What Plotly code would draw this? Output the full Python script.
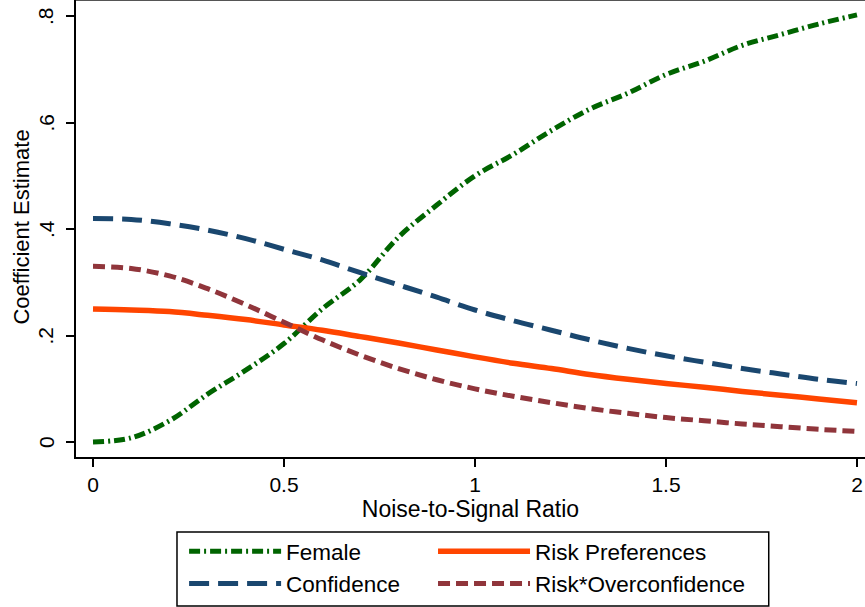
import plotly.graph_objects as go

# noise-to-signal ratio grid
ratio = [0.0, 0.1, 0.2, 0.3, 0.4, 0.5, 0.6, 0.7, 0.8, 0.9, 1.0,
         1.1, 1.2, 1.3, 1.4, 1.5, 1.6, 1.7, 1.8, 1.9, 2.0]

female = [0.0, 0.008, 0.04, 0.09, 0.135, 0.185, 0.25, 0.305, 0.385, 0.445, 0.5,
          0.54, 0.585, 0.625, 0.655, 0.69, 0.715, 0.745, 0.765, 0.785, 0.802]
confidence = [0.42, 0.418, 0.41, 0.398, 0.382, 0.362, 0.342, 0.318, 0.295, 0.272, 0.248,
              0.228, 0.21, 0.192, 0.176, 0.162, 0.15, 0.138, 0.128, 0.118, 0.11]
risk_pref = [0.25, 0.248, 0.245, 0.238, 0.23, 0.22, 0.21, 0.198, 0.186, 0.173, 0.16,
             0.148, 0.138, 0.127, 0.118, 0.11, 0.103, 0.095, 0.088, 0.081, 0.074]
risk_overconf = [0.33, 0.326, 0.312, 0.288, 0.258, 0.225, 0.192, 0.163, 0.138, 0.117, 0.1,
                 0.086, 0.074, 0.063, 0.054, 0.046, 0.04, 0.034, 0.029, 0.024, 0.02]

y_ticks = [0, 0.2, 0.4, 0.6, 0.8]
y_ticktext = ["0", ".2", ".4", ".6", ".8"]
x_ticks = [0, 0.5, 1, 1.5, 2]
x_ticktext = ["0", "0.5", "1", "1.5", "2"]

FONT = "Liberation Sans, Arial, sans-serif"

fig = go.Figure()
# column 1 of the legend
fig.add_trace(go.Scatter(x=ratio, y=female, mode="lines", name="Female", legend="legend",
                         line=dict(color="#006400", width=5, dash="11px,4px,2px,4px", shape="spline")))
fig.add_trace(go.Scatter(x=ratio, y=confidence, mode="lines", name="Confidence", legend="legend",
                         line=dict(color="#1a476f", width=5, dash="20px,9px", shape="spline")))
# column 2 of the legend
fig.add_trace(go.Scatter(x=ratio, y=risk_pref, mode="lines", name="Risk Preferences", legend="legend2",
                         line=dict(color="#ff4500", width=5.5, shape="spline")))
fig.add_trace(go.Scatter(x=ratio, y=risk_overconf, mode="lines", name="Risk*Overconfidence", legend="legend2",
                         line=dict(color="#90353b", width=5, dash="12px,6px", shape="spline")))

leg = dict(orientation="v", xanchor="left", yanchor="top", y=-0.160,
           itemwidth=92, traceorder="normal", tracegroupgap=0,
           font=dict(family=FONT, size=22.5), bgcolor="rgba(0,0,0,0)", borderwidth=0)

# rotated y tick labels (Stata style), placed on the y axis scale
y_labels = [dict(text=t, x=-0.038, xref="paper", y=v, yref="y", textangle=-90,
                 xanchor="center", yanchor="middle", showarrow=False,
                 font=dict(family=FONT, size=21))
            for v, t in zip(y_ticks, y_ticktext)]
y_labels.append(dict(text="Coefficient Estimate", x=-0.0684, xref="paper", y=0.502, yref="paper",
                     textangle=-90, xanchor="center", yanchor="middle", showarrow=False,
                     font=dict(family=FONT, size=22)))

fig.update_layout(
    width=865, height=607,
    margin=dict(l=76, r=0, t=0, b=150, autoexpand=False),
    plot_bgcolor="white", paper_bgcolor="white",
    font=dict(family=FONT, size=21, color="black"),
    xaxis=dict(range=[-0.0445, 2.021], tickvals=x_ticks, ticktext=x_ticktext, automargin=False,
               showgrid=False, zeroline=False, showline=True, linecolor="black", linewidth=2,
               ticks="outside", ticklen=8, tickwidth=1.5, tickcolor="black",
               title=dict(text="Noise-to-Signal Ratio", standoff=2, font=dict(size=23))),
    yaxis=dict(range=[-0.028, 0.83], tickvals=y_ticks, showticklabels=False,
               automargin=False,
               showgrid=False, zeroline=False, showline=True, linecolor="black", linewidth=2,
               ticks="outside", ticklen=8, tickwidth=1.5, tickcolor="black"),
    legend=dict(leg, x=0.137),
    legend2=dict(leg, x=0.4525),
    annotations=y_labels,
    shapes=[
        dict(type="line", xref="paper", yref="paper", x0=0, x1=1, y0=1, y1=1,
             line=dict(color="#555555", width=2)),
        dict(type="rect", xref="paper", yref="paper", x0=0.128, x1=0.878, y0=-0.164, y1=-0.326,
             line=dict(color="black", width=1.5)),
    ],
)

fig.write_html("out.html", config={"displayModeBar": False},
               post_script="document.body.style.margin='0px';")
